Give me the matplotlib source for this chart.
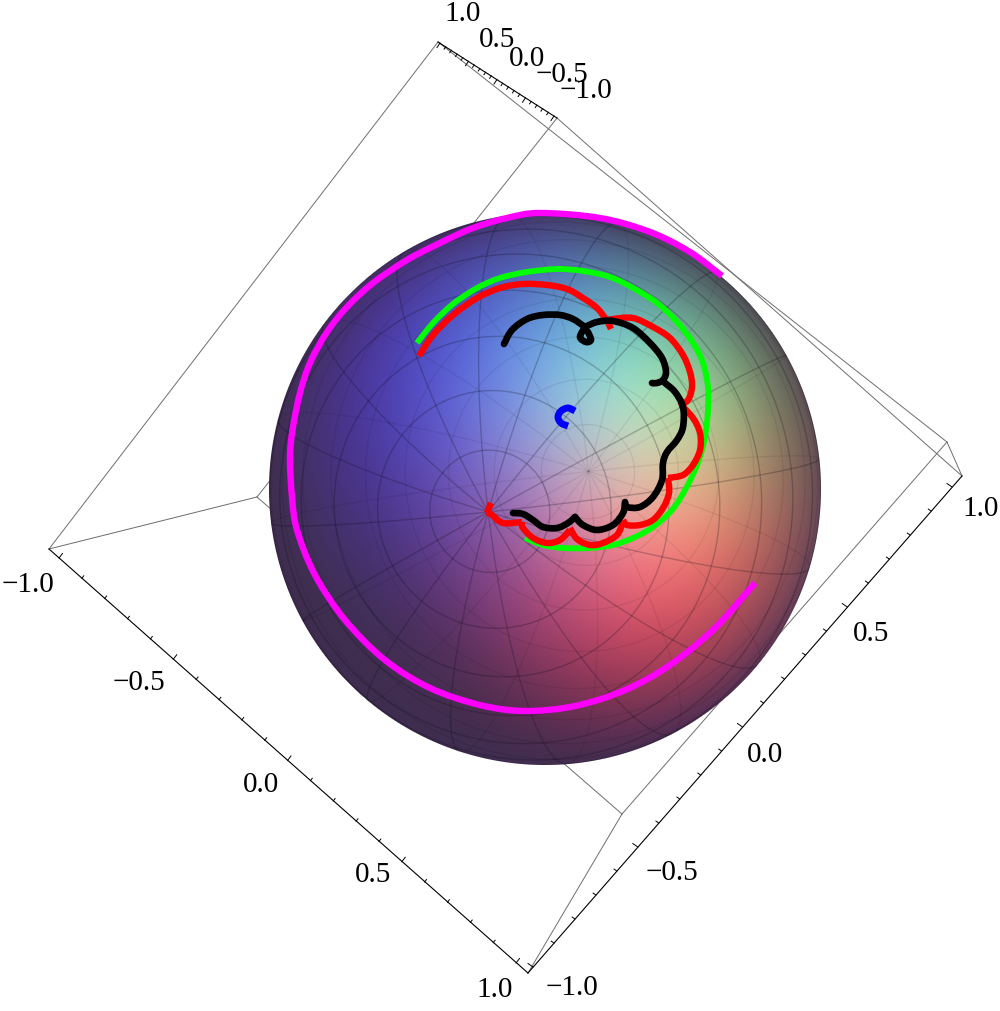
import numpy as np
import matplotlib
matplotlib.use('Agg')
import matplotlib.pyplot as plt
from matplotlib.collections import LineCollection
from matplotlib.patches import Circle, PathPatch
from matplotlib.path import Path

W, H = 1000, 1011

# curves, in pixels, None splits the arcs at the cusps
green_x = [417, 433, 453, 477, 500, 527, 557, 583, 610, 633, 657, 677, 693, 703, 708, 708, 706, 702, 695, 685, 672, 653, 633, 613, 590, 563, 543, 525]
green_y = [343, 323, 304, 288, 278, 272, 269, 271, 277, 288, 303, 322, 343, 363, 387, 410, 430, 450, 470, 490, 510, 527, 538, 545, 548, 548, 545, 538]

red_x = [419, 433, 453, 477, 500, 523, 547, 567, 583, 597, 607, 611, None,
         606, 613, 633, 653, 670, 683, 690, 692, 688, 679, None,
         681, 693, 700, 700, 693, 683, 668, None,
         668, 669, 663, 653, 640, 627, 623, None,
         623, 617, 603, 590, 577, 570, None,
         570, 560, 547, 533, 523, 522, None,
         522, 503, 492, 487, None,
         487, 491]
red_y = [356, 335, 315, 298, 288, 284, 285, 289, 298, 308, 321, 329, None,
         321, 319, 318, 327, 338, 355, 372, 387, 400, 406, None,
         405, 418, 433, 450, 465, 475, 478, None,
         478, 493, 508, 520, 525, 525, 520, None,
         522, 535, 543, 545, 539, 528, None,
         530, 540, 543, 538, 528, 522, None,
         522, 523, 515, 512, None,
         513, 503]

black_x = [504, 512, 527, 543, 560, 573, 585, None,
           585, 580, 586, 591, 588, None,
           585, 597, 613, 633, 650, 662, 666, 663, 657, 652, None,
           665, 675, 683, 683, 677, 667, 663, 662, 653, 640, 627, 625, None,
           625, 623, 613, 597, 583, 575, None,
           575, 568, 557, 543, 533, 523, 513]
black_y = [344, 330, 319, 315, 315, 319, 327, None,
           327, 337, 342, 340, 332, None,
           327, 322, 321, 328, 343, 358, 372, 380, 383, 383, None,
           383, 392, 407, 427, 440, 452, 463, 480, 497, 507, 507, 502, None,
           503, 513, 525, 530, 525, 517, None,
           517, 523, 528, 527, 520, 514, 513]

blue_x = [575, 568, 561, 558, 561, 568]
blue_y = [411, 408, 411, 417, 423, 426]

magenta_x = [722, 690, 650, 600, 540, 507, 473, 440, 407, 373, 347, 327, 310, 300, 293, 290, 292, 297, 315, 345, 385, 430, 480, 525, 575, 625, 670, 715, 755]
magenta_y = [276, 252, 232, 218, 213, 218, 228, 243, 260, 283, 307, 332, 363, 393, 427, 457, 497, 530, 575, 620, 660, 688, 705, 711, 706, 690, 665, 628, 583]

# bounding box corners
top_a = (438, 42)
top_b = (557, 118)
right_out = (962, 476)
right_in = (947, 442)
left_out = (49, 549)
back_left = (257, 497)
bottom_out = (528, 973)
bottom_in = (622, 814)

# tick ends and labels
tick_values = ['\u22121.0', '\u22120.5', '0.0', '0.5', '1.0']
axis1_ends = [(59, 558), (516, 963)]
axis2_ends = [(533, 967), (952, 487)]
axis3_ends = [(554, 116), (440, 43)]
axis1_label_x = [28, 139, 261, 373, 495]
axis1_label_y = [585, 683, 785, 875, 990]
axis2_label_x = [572, 672, 765, 871, 981]
axis2_label_y = [988, 873, 755, 634, 509]
axis3_label_x = [586, 562, 527, 497, 463]
axis3_label_y = [91, 75, 59, 40, 14]

cx, cy, R = 545, 489, 276

fig = plt.figure(figsize=(W / 100, H / 100), dpi=100)
ax = fig.add_axes([0, 0, 1, 1])
ax.set_xlim(0, W)
ax.set_ylim(H, 0)
ax.axis('off')

# box lines behind the sphere
box_gray = '#6e6e6e'
for p, q in [(top_a, left_out), (left_out, back_left), (back_left, top_b), (top_b, right_out),
             (top_a, right_in), (right_in, right_out), (right_in, bottom_in), (bottom_in, bottom_out),
             (bottom_in, back_left)]:
    ax.plot([p[0], q[0]], [p[1], q[1]], color=box_gray, lw=0.7, zorder=1)

# black axes with ticks
for p, q in [(left_out, bottom_out), (bottom_out, right_out), (top_a, top_b)]:
    ax.plot([p[0], q[0]], [p[1], q[1]], color='black', lw=0.8, zorder=2)


def draw_ticks(ends, major):
    xs = np.linspace(ends[0][0], ends[1][0], 21)
    ys = np.linspace(ends[0][1], ends[1][1], 21)
    for i in range(21):
        f = 1.0 if i % 5 == 0 else 0.55
        ax.plot([xs[i], xs[i] + major[0] * f], [ys[i], ys[i] + major[1] * f], color='black', lw=0.7, zorder=2)


draw_ticks(axis1_ends, (3.5, -4.5))
draw_ticks(axis2_ends, (-5, -3.5))
draw_ticks(axis3_ends, (-3, 4.5))

for xs, ys in [(axis1_label_x, axis1_label_y), (axis2_label_x, axis2_label_y), (axis3_label_x, axis3_label_y)]:
    for x, y, s in zip(xs, ys, tick_values):
        ax.text(x, y, s, fontsize=21, family='Liberation Serif', ha='center', va='center', color='black', zorder=3)

# sphere shading
yy, xx = np.mgrid[0:H, 0:W]
u = (xx + 0.5 - cx) / R
v = (yy + 0.5 - cy) / R
rr = u ** 2 + v ** 2
nz = np.sqrt(np.clip(1 - rr, 0, 1))


def light(lx, ly, lz, p):
    d = np.array([lx, ly, lz], dtype=float)
    d = d / np.linalg.norm(d)
    return np.clip(u * d[0] + v * d[1] + nz * d[2], 0, 1) ** p


blue_spot = light(-0.10, -0.42, 0.90, 3)
img = np.zeros((H, W, 4))
img[..., 0] = 0.25 + 0.50 * light(0.38, 0.22, 0.90, 5) + 0.20 * light(0.75, 0.10, 0.65, 2) + 0.08 * blue_spot
img[..., 1] = 0.18 + 0.44 * light(0.34, -0.32, 0.88, 6) + 0.22 * light(0.60, -0.30, 0.70, 2) + 0.06 * blue_spot
img[..., 2] = 0.31 + 0.56 * blue_spot + 0.04 * light(0.75, 0.10, 0.65, 2)
img[..., :3] = np.clip(img[..., :3], 0, 1)
img[..., 3] = np.clip((R - np.sqrt((xx + 0.5 - cx) ** 2 + (yy + 0.5 - cy) ** 2)) + 0.5, 0, 1)
ax.imshow(img, extent=(0, W, H, 0), interpolation='nearest', zorder=4, aspect='auto')
ax.set_xlim(0, W)
ax.set_ylim(H, 0)

# sphere mesh, poles seen at about 11 degrees off the view axis
d_cam = 7.4
scale = R * np.sqrt(d_cam ** 2 - 1)
alpha_p = np.radians(11.2)
psi = np.arctan2(23, -57)
pole = np.array([np.sin(alpha_p) * np.cos(psi), np.sin(alpha_p) * np.sin(psi), np.cos(alpha_p)])
e1 = np.cross([0, 1, 0], pole)
e1 = e1 / np.linalg.norm(e1)
e2 = np.cross(pole, e1)
phi0 = np.radians(-6)
clip = Circle((cx, cy), R, transform=ax.transData)


def project(theta, phi):
    pts = np.outer(np.sin(theta) * np.cos(phi + phi0), e1) + np.outer(np.sin(theta) * np.sin(phi + phi0), e2) + np.outer(np.cos(theta), pole)
    f = scale / (d_cam - pts[:, 2])
    # a point is on the near side when it faces the camera
    front = pts[:, 2] > 1 / d_cam
    return cx + pts[:, 0] * f, cy + pts[:, 1] * f, front


front_segs, back_segs = [], []


def add_curve(theta, phi):
    x, y, front = project(theta, phi)
    for i in range(len(x) - 1):
        seg = [(x[i], y[i]), (x[i + 1], y[i + 1])]
        (front_segs if front[i] and front[i + 1] else back_segs).append(seg)


t = np.linspace(0, np.pi, 300)
for k in range(16):
    add_curve(t, np.full_like(t, k * np.pi / 8))
t = np.linspace(0, 2 * np.pi, 500)
for k in range(1, 16):
    add_curve(np.full_like(t, k * np.pi / 16), t)

back_lc = LineCollection(back_segs, colors=[(0, 0, 0, 0.07)], linewidths=0.9, zorder=5)
front_lc = LineCollection(front_segs, colors=[(0.05, 0.05, 0.1, 0.24)], linewidths=1.0, zorder=5)
for lc in (back_lc, front_lc):
    ax.add_collection(lc)
    lc.set_clip_path(clip)


def arc_path(pts):
    # smooth bezier through the read points
    pts = np.array(pts, dtype=float)
    verts = [pts[0]]
    codes = [Path.MOVETO]
    n = len(pts)
    for i in range(n - 1):
        a = pts[max(i - 1, 0)]
        b = pts[min(i + 2, n - 1)]
        verts += [pts[i] + (pts[i + 1] - a) / 6, pts[i + 1] - (b - pts[i]) / 6, pts[i + 1]]
        codes += [Path.CURVE4, Path.CURVE4, Path.CURVE4]
    return Path(verts, codes)


def curve(xs, ys, color, lw, cap, z):
    arc = []
    for x, y in zip(list(xs) + [None], list(ys) + [None]):
        if x is None:
            ax.add_patch(PathPatch(arc_path(arc), fill=False, edgecolor=color, lw=lw, capstyle=cap, joinstyle='round', zorder=z))
            arc = []
        else:
            arc.append((x, y))


curve(magenta_x, magenta_y, '#ff00ff', 4.6, 'butt', 6)
curve(green_x, green_y, '#00ff00', 4.2, 'butt', 6)
curve(red_x, red_y, '#ff0000', 4.6, 'butt', 7)
curve(black_x, black_y, '#000000', 4.8, 'round', 8)
curve(blue_x, blue_y, '#0000ff', 5.0, 'butt', 8)

fig.savefig('out.png', dpi=100)
